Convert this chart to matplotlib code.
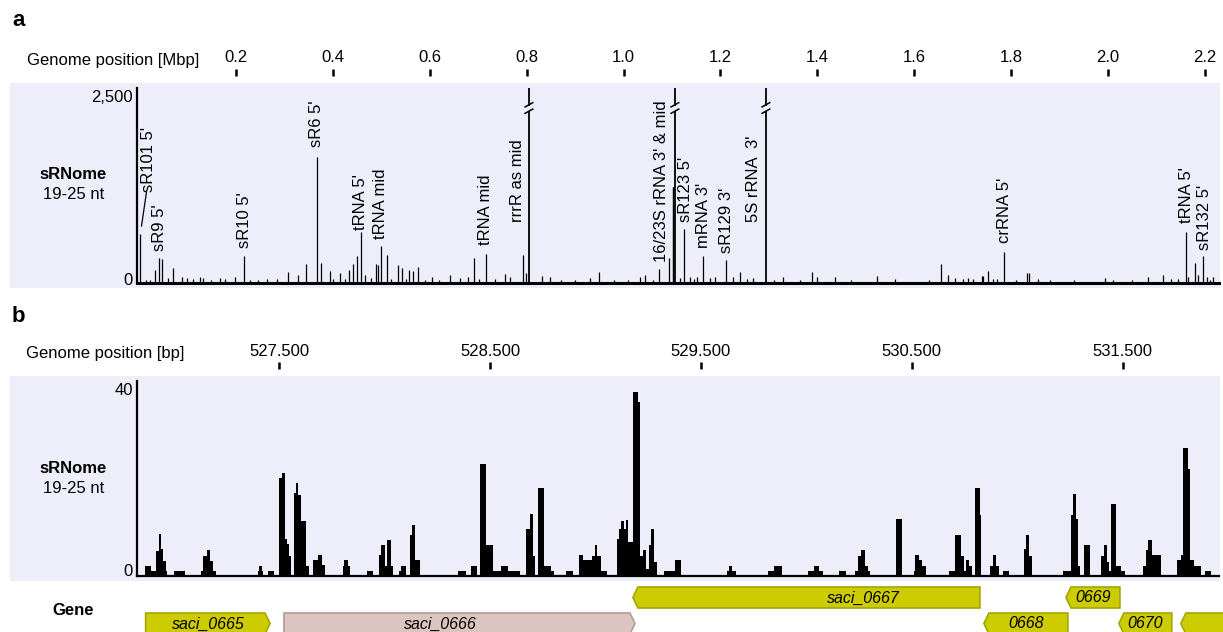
import matplotlib
matplotlib.use("Agg")
import matplotlib.pyplot as plt
from matplotlib.patches import Rectangle, Polygon

plt.rcParams["font.family"] = ["Liberation Sans", "DejaVu Sans"]

W, H = 1223, 632
BAND = "#eeeefa"
YELLOW, YELLOW_EDGE = "#cccc00", "#a5a500"
PINK, PINK_EDGE = "#dcc5c1", "#b09c99"

# ---------------- panel a: genome-wide sRNA read counts ----------------
mbp_ticks = [0.2, 0.4, 0.6, 0.8, 1.0, 1.2, 1.4, 1.6, 1.8, 2.0, 2.2]

peak_mbp = [0.0019, 0.0328, 0.0417, 0.0479, 0.0603, 0.0706, 0.0879, 0.0982, 0.1257, 0.1325,
            0.1670, 0.1773, 0.1979, 0.2171, 0.2634, 0.3079, 0.3286, 0.3445, 0.3666, 0.3748,
            0.3940, 0.4147, 0.4339, 0.4421, 0.4491, 0.4574, 0.4663, 0.4890, 0.4925, 0.4987,
            0.5110, 0.5350, 0.5420, 0.5577, 0.5660, 0.5763, 0.6039, 0.6417, 0.6623, 0.6789,
            0.6912, 0.7160, 0.7553, 0.7656, 0.7930, 0.7985, 0.8310, 0.8481, 0.9307, 0.9498,
            1.0339, 1.0442, 1.0737, 1.0943, 1.1020, 1.1030, 1.1164, 1.1253, 1.1371, 1.1509,
            1.1645, 1.1783, 1.1887, 1.2113, 1.2264, 1.2402, 1.2677, 1.3296, 1.3882, 1.3986,
            1.4363, 1.5236, 1.5602, 1.6557, 1.6702, 1.7114, 1.7218, 1.7391, 1.7424, 1.7515,
            1.7631, 1.7857, 1.8320, 1.8367, 1.8547, 1.9936, 2.0830, 2.1139, 2.1602, 2.1643,
            2.1794, 2.1862, 2.1965, 2.2047, 2.2171,
            0.0150, 0.0230, 0.1110, 0.1480, 0.2280, 0.2450, 0.2850, 0.4010, 0.4250, 0.4780,
            0.5200, 0.5500, 0.5900, 0.6200, 0.7020, 0.7350, 0.8700, 0.9000, 0.9800, 1.0100,
            1.0600, 1.1450, 1.2550, 1.3100, 1.3650, 1.4700, 1.6300, 1.6850, 1.7000, 1.7700,
            1.8100, 1.8800, 1.9300, 2.0100, 2.0500, 2.1300, 2.1450, 2.2100]
peak_reads = [628, 167, 316, 308, 60, 188, 73, 68, 81, 70,
              60, 47, 73, 346, 47, 145, 103, 244, 1620, 261,
              158, 124, 167, 244, 346, 650, 103, 244, 231, 479,
              359, 231, 188, 167, 158, 209, 73, 103, 60, 81,
              316, 368, 115, 81, 359, 124, 94, 81, 68, 145,
              81, 103, 175, 316, 1235, 1235, 60, 688, 73, 73,
              350, 60, 73, 295, 73, 145, 60, 73, 145, 73,
              73, 90, 47, 239, 103, 60, 56, 90, 90, 150,
              47, 393, 132, 132, 47, 60, 81, 103, 650, 81,
              261, 103, 350, 81, 73,
              40, 35, 45, 38, 42, 36, 50, 55, 48, 60,
              52, 45, 40, 44, 50, 48, 38, 35, 40, 36,
              42, 55, 45, 38, 40, 35, 42, 60, 50, 45,
              40, 36, 38, 42, 40, 45, 50, 42]

# rRNA-derived peaks that run far beyond the 2,500 read scale
broken_mbp = [0.8047, 1.1061, 1.2939]
broken_reads = [6000, 9000, 5000]

feature_names = ["sR101 5'", "sR9 5'", "sR10 5'", "sR6 5'", "tRNA 5'", "tRNA mid",
                 "tRNA mid", "rrrR as mid", "16/23S rRNA 3' & mid", "sR123 5'", "mRNA 3'",
                 "sR129 3'", "5S rRNA  3'", "crRNA 5'", "tRNA 5'", "sR132 5'"]
feature_at = [(0.0194, 1167), (0.0423, 410), (0.2171, 449), (0.3666, 1744), (0.4574, 679),
              (0.4986, 564), (0.7160, 487), (0.7806, 786), (1.0786, 273), (1.1288, 786),
              (1.1659, 449), (1.2128, 385), (1.2691, 786), (1.7872, 513), (2.1622, 769),
              (2.1986, 423)]

# ---------------- panel b: read depth around saci_0666/0667 ----------------
bp_ticks = [527500, 528500, 529500, 530500, 531500]

cov_start = [
    526863, 526892, 526916, 526927, 526938, 526949, 526962, 526969,
    527001, 527052, 527128, 527140, 527157, 527172, 527185, 527199,
    527397, 527405, 527419, 527424, 527444, 527476, 527500, 527511,
    527527, 527537, 527548, 527556, 527568, 527577, 527587, 527603,
    527627, 527643, 527658, 527685, 527701, 527717, 527801, 527809,
    527824, 527833, 527917, 527943, 527972, 527983, 527999, 528012,
    528031, 528038, 528070, 528078, 528102, 528118, 528129, 528145,
    528165, 528347, 528387, 528411, 528439, 528450, 528482, 528513,
    528553, 528585, 528640, 528672, 528688, 528703, 528711, 528727,
    528756, 528791, 528803, 528862, 528893, 528920, 528941, 528981,
    528996, 529009, 529025, 529052, 529100, 529110, 529123, 529133,
    529142, 529152, 529176, 529199, 529210, 529226, 529237, 529253,
    529263, 529278, 529290, 529326, 529377, 529404, 529622, 529633,
    529649, 529665, 529817, 529848, 529886, 530007, 530037, 530061,
    530081, 530157, 530187, 530232, 530247, 530260, 530279, 530292,
    530303, 530425, 530453, 530509, 530517, 530536, 530548, 530567,
    530678, 530703, 530732, 530746, 530759, 530770, 530786, 530798,
    530825, 530830, 530873, 530884, 530900, 530912, 530931, 530960,
    531031, 531043, 531055, 531068, 531216, 531253, 531264, 531277,
    531290, 531300, 531316, 531343, 531396, 531411, 531427, 531435,
    531443, 531470, 531491, 531511, 531597, 531609, 531622, 531638,
    531681, 531757, 531776, 531788, 531810, 531820, 531839, 531871,
    531891]
cov_end = 531918
cov_depth = [
    2, 1, 5, 8.5, 5.5, 3, 1, 0,
    1, 0, 1, 4, 5.2, 3, 1, 0,
    1, 2, 1, 0, 1, 0, 20, 21,
    7.6, 6.5, 4, 0, 17, 19, 16.5, 11.3,
    2, 0, 3.2, 4.3, 2.2, 0, 2, 3.2,
    2, 0, 1, 0, 4.3, 6.3, 2, 7.4,
    2, 0, 1, 2, 0, 8.4, 10.3, 3.2,
    0, 1, 0, 2, 0, 23, 6.3, 1,
    2, 1, 0, 9.6, 12.7, 4, 0, 17.9,
    2, 1, 0, 1, 0, 4.3, 3.2, 4,
    6.3, 4, 1, 0, 7.6, 9.6, 11.3, 9.6,
    11.5, 6.9, 37.7, 35.7, 4, 5.3, 1.4, 6.3,
    9.5, 2.7, 0, 1, 3.2, 0, 1, 2,
    1, 0, 1, 2, 0, 1, 2, 1,
    0, 1, 0, 1, 4, 5.2, 2, 1,
    0, 11.7, 0, 1, 4.3, 3.2, 2, 0,
    1, 8.4, 4, 1, 3.2, 2, 0, 17.9,
    12.5, 0, 2, 4.3, 2, 0, 1, 0,
    5.5, 8.4, 4, 0, 1, 12.4, 16.8, 11.7,
    2, 0, 6.3, 0, 4, 6.3, 2.7, 1,
    14.8, 2, 1, 0, 2, 5.2, 7.4, 4.3,
    0, 3.2, 4.3, 26.3, 22, 3.2, 2, 0,
    1]

gene_names = ["saci_0665", "saci_0666", "saci_0667", "0668", "0669", "0670", "0671"]
gene_start = [526866, 527522, 529177, 530842, 531231, 531482, 531776]
gene_end = [527456, 529187, 530823, 531240, 531487, 531733, 532400]
gene_strand = [1, 1, -1, -1, -1, -1, -1]
gene_row = [1, 1, 0, 1, 0, 1, 1]
gene_colour = ["y", "p", "y", "y", "y", "y", "y"]


def rect(x0, y0, x1, y1):
    return [x0 / W, 1 - y1 / H, (x1 - x0) / W, (y1 - y0) / H]


def ftext(x, y, s, size=12, **kw):
    fig.text(x / W, 1 - y / H, s, fontsize=size, **kw)


def ruler(y_px, xlim, ticks, labels, pad):
    r = fig.add_axes(rect(137, y_px - 1, 1219, y_px))
    r.set_xlim(xlim)
    r.set_ylim(0, 1)
    r.patch.set_visible(False)
    for s in r.spines.values():
        s.set_visible(False)
    r.set_yticks([])
    r.xaxis.tick_top()
    r.set_xticks(ticks, labels)
    r.tick_params(axis="x", direction="out", length=5.2, width=1.8,
                  pad=pad, labelsize=12, top=True, bottom=False)
    return r


def track_axes(y0, y1, xlim, ylim, base_lw):
    ax = fig.add_axes(rect(137, y0, 1219, y1))
    ax.set_xlim(xlim)
    ax.set_ylim(ylim)
    ax.patch.set_visible(False)
    ax.spines[["top", "right"]].set_visible(False)
    ax.spines["left"].set_linewidth(1.6)
    ax.spines["bottom"].set_linewidth(base_lw)
    ax.set_xticks([])
    ax.set_yticks([])
    return ax


fig = plt.figure(figsize=(W / 100, H / 100), dpi=100)

# lavender bands behind the two tracks
for y0, y1 in [(83, 288), (376, 581)]:
    fig.add_artist(Rectangle((10 / W, 1 - y1 / H), 1210 / W, (y1 - y0) / H,
                             transform=fig.transFigure, color=BAND, lw=0, zorder=-5))

# ---- panel a ----
xlim_a = (-0.0043, 2.2292)
ax_a = track_axes(88, 283, xlim_a, (0, 2500), base_lw=2.2)
ax_a.vlines(peak_mbp, 0, peak_reads, color="black", lw=0.9)
ax_a.vlines(broken_mbp, 0, broken_reads, color="black", lw=1.3)

xpp = (xlim_a[1] - xlim_a[0]) / 1082
ypp = 2500 / 195
y_brk = 2500 - 20 * ypp
for x in broken_mbp:
    ax_a.add_patch(Rectangle((x - 3 * xpp, y_brk - 2.5 * ypp), 6 * xpp, 5 * ypp,
                             color=BAND, lw=0, zorder=3))
    for yc in (y_brk + 3.2 * ypp, y_brk - 3.2 * ypp):
        ax_a.plot([x - 4.5 * xpp, x + 4.5 * xpp], [yc - 2.5 * ypp, yc + 2.5 * ypp],
                  color="black", lw=1.1, zorder=4, solid_capstyle="butt")

for name, (x, y) in zip(feature_names, feature_at):
    ax_a.text(x, y, name, rotation=90, ha="center", va="bottom", fontsize=12)
# leader from the sR101 peak to its label
ax_a.plot([peak_mbp[0] + 1.5 * xpp, feature_at[0][0] - 2 * xpp],
          [peak_reads[0] + 8 * ypp, feature_at[0][1] - 2], color="black", lw=0.9)

ruler(77, xlim_a, mbp_ticks, [f"{t:.1f}" for t in mbp_ticks], pad=3)

# ---- panel b ----
xlim_b = (526825, 531957)
ax_b = track_axes(381, 575.5, xlim_b, (0, 40), base_lw=1.6)
ax_b.stairs(cov_depth, cov_start + [cov_end], fill=True, color="black", lw=0)

ruler(369.5, xlim_b, bp_ticks, [f"{t // 1000}.{t % 1000:03d}" for t in bp_ticks], pad=2)

# gene arrows, row 0 on top
ax_g = fig.add_axes(rect(137, 580, 1219, 632))
ax_g.set_xlim(xlim_b)
ax_g.set_ylim(632, 580)
ax_g.axis("off")
row_top = [587, 613]
row_h = 21
tip = 24
label_x = {"saci_0666": 528262, "saci_0667": 530270}
for name, s, e, strand, row, col in zip(gene_names, gene_start, gene_end,
                                        gene_strand, gene_row, gene_colour):
    t = row_top[row]
    b = t + row_h
    m = t + row_h / 2
    if strand > 0:
        pts = [(s, t), (e - tip, t), (e, m), (e - tip, b), (s, b)]
    else:
        pts = [(e, t), (s + tip, t), (s, m), (s + tip, b), (e, b)]
    fc, ec = (YELLOW, YELLOW_EDGE) if col == "y" else (PINK, PINK_EDGE)
    ax_g.add_patch(Polygon(pts, closed=True, fc=fc, ec=ec, lw=1.2, clip_on=False))
    lx = label_x.get(name, (s + e) / 2)
    # names whose centre falls past the window edge stay off the track
    if lx < xlim_b[1] - 150:
        ax_g.text(lx, m + 0.5, name, ha="center", va="center", fontsize=11.5,
                  style="italic")

# ---- labels ----
ftext(12, 26, "a", size=16, fontweight="bold", va="baseline")
ftext(12, 322, "b", size=16, fontweight="bold", va="baseline")
ftext(27, 65, "Genome position [Mbp]", va="baseline")
ftext(26, 358, "Genome position [bp]", va="baseline")
for yb in (179, 473):
    ftext(73, yb, "sRNome", ha="center", va="baseline", fontweight="bold")
    ftext(74, yb + 20, "19-25 nt", ha="center", va="baseline")
ftext(73, 615, "Gene", ha="center", va="baseline", fontweight="bold")
ftext(133, 102.5, "2,500", ha="right", va="baseline")
ftext(133, 284.5, "0", ha="right", va="baseline")
ftext(133, 395, "40", ha="right", va="baseline")
ftext(133, 576.5, "0", ha="right", va="baseline")

fig.savefig("out.png", dpi=100)
